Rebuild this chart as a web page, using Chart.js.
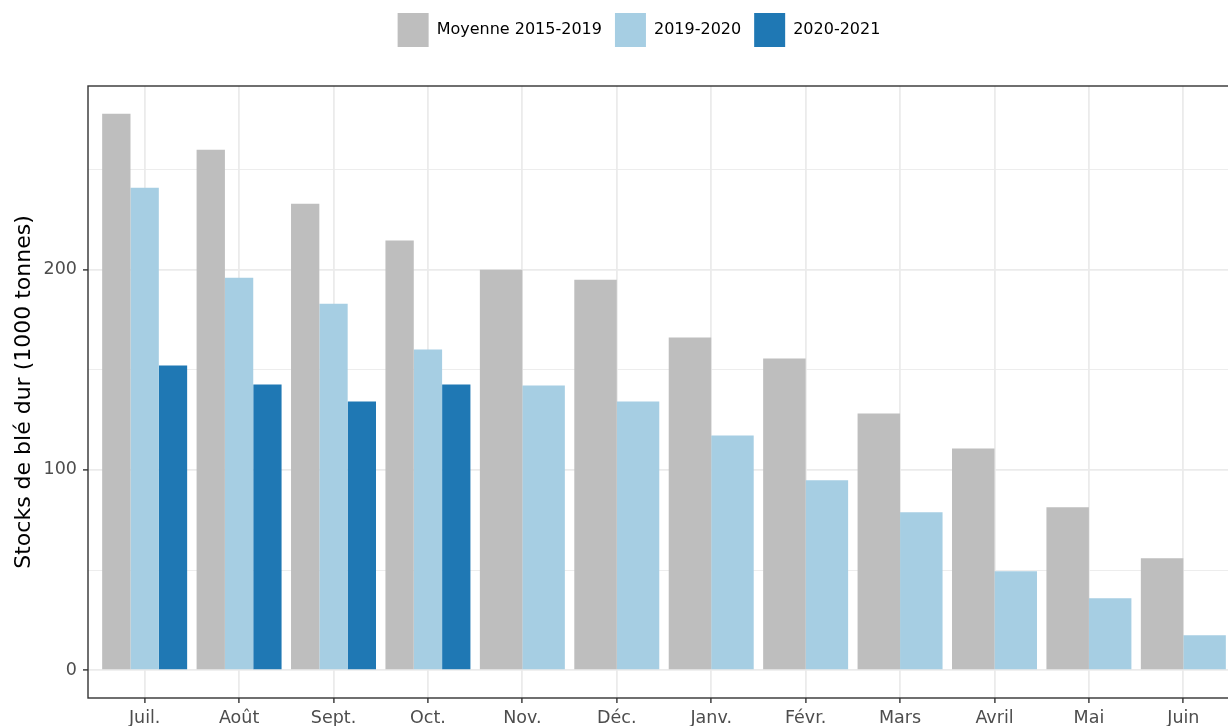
<!DOCTYPE html>
<html>
<head>
<meta charset="utf-8">
<script src="https://cdn.jsdelivr.net/npm/chart.js@4.4.1/dist/chart.umd.min.js"></script>
<style>
html,body{margin:0;padding:0;background:#fff;overflow:hidden;width:1228px;height:726px}
canvas{display:block}
</style>
</head>
<body>
<canvas id="c" width="1280" height="726" style="width:1280px;height:726px"></canvas>
<script>
// ---- data ----
const months = ['Juil.', 'Août', 'Sept.', 'Oct.', 'Nov.', 'Déc.', 'Janv.', 'Févr.', 'Mars', 'Avril', 'Mai', 'Juin'];
const moyenne20152019 = [277.8, 259.9, 232.9, 214.5, 200.0, 195.0, 166.1, 155.6, 128.2, 110.7, 81.3, 55.9];
const stocks20192020 = [240.9, 196.0, 183.0, 160.1, 142.1, 134.2, 117.2, 94.8, 78.8, 49.4, 35.9, 17.5];
const stocks20202021 = [152.1, 142.6, 134.2, 142.6, null, null, null, null, null, null, null, null];
const seriesNames = ['Moyenne 2015-2019', '2019-2020', '2020-2021'];
const yTickValues = [0, 50, 100, 150, 200, 250];
const yLabelledTicks = [0, 100, 200];
const yTitle = 'Stocks de blé dur (1000 tonnes)';

// ---- styles ----
const seriesColors = ['#bebebe', '#a6cee3', '#1f78b4'];
const FONT = '"DejaVu Sans", "Noto Sans", sans-serif';
Chart.defaults.font.family = FONT;

const panelBorder = {
  id: 'panelBorder',
  afterDraw(chart) {
    const a = chart.chartArea, ctx = chart.ctx;
    ctx.save();
    ctx.strokeStyle = '#333333';
    ctx.lineWidth = 1.4;
    ctx.strokeRect(a.left, a.top, a.right - a.left, a.bottom - a.top);
    ctx.restore();
  }
};

const legendSpacer = {
  id: 'legendSpacer',
  beforeLayout(chart) {
    const lg = chart.legend;
    if (lg && !lg.__patched) {
      const orig = lg.fit;
      lg.fit = function () { orig.call(this); this.height += 29; };
      lg.__patched = true;
    }
  },
  afterLayout(chart) {
    const lg = chart.legend;
    if (lg) { lg.left += 19; lg.right += 19; }
  }
};

const data = {
  labels: months,
  datasets: [
    { label: seriesNames[0], data: moyenne20152019, backgroundColor: seriesColors[0] },
    { label: seriesNames[1], data: stocks20192020, backgroundColor: seriesColors[1] },
    { label: seriesNames[2], data: stocks20202021, backgroundColor: seriesColors[2] }
  ].map(d => Object.assign(d, { borderWidth: 0, skipNull: true, categoryPercentage: 0.9, barPercentage: 1.0 }))
};

new Chart(document.getElementById('c'), {
  type: 'bar',
  data,
  plugins: [legendSpacer, panelBorder],
  options: {
    responsive: false,
    animation: false,
    devicePixelRatio: 1,
    layout: { padding: { left: 0, right: 40, top: 0, bottom: 0 } },
    plugins: {
      tooltip: { enabled: false },
      legend: {
        position: 'top',
        align: 'center',
        labels: {
          boxWidth: 31,
          boxHeight: 34,
          padding: 13,
          color: '#000000',
          font: { size: 16, family: FONT }
        }
      }
    },
    scales: {
      x: {
        type: 'category',
        offset: true,
        afterBuildTicks(scale) {
          scale._startValue = -0.6;
          scale._valueRange = months.length - 1 + 1.2;
        },
        afterFit(scale) { scale.height = 28; },
        border: { display: false },
        grid: {
          offset: false,
          color: '#ebebeb',
          lineWidth: 1.8,
          drawTicks: true,
          tickLength: 5,
          tickColor: '#333333',
          tickWidth: 1.4
        },
        ticks: {
          color: '#4d4d4d',
          font: { size: 17.5, family: FONT },
          padding: 5,
          autoSkip: false,
          maxRotation: 0,
          minRotation: 0
        }
      },
      y: {
        type: 'linear',
        min: -13.89,
        max: 291.69,
        afterBuildTicks(scale) {
          scale.ticks = yTickValues.map(v => ({ value: v }));
        },
        afterFit(scale) { scale.width = 88; },
        border: { display: false },
        grid: {
          color: '#ebebeb',
          lineWidth: (ctx) => (ctx.tick && yLabelledTicks.includes(ctx.tick.value)) ? 1.8 : 0.9,
          drawTicks: true,
          tickLength: 5,
          tickWidth: 1.4,
          tickColor: (ctx) => (ctx.tick && yLabelledTicks.includes(ctx.tick.value)) ? '#333333' : 'rgba(0,0,0,0)'
        },
        ticks: {
          color: '#4d4d4d',
          font: { size: 17.5, family: FONT },
          padding: 6,
          callback: (v) => yLabelledTicks.includes(v) ? String(v) : ''
        },
        title: {
          display: true,
          text: yTitle,
          color: '#000000',
          font: { size: 22, family: FONT },
          padding: { top: 11, bottom: 0 }
        }
      }
    }
  }
});
</script>
</body>
</html>
